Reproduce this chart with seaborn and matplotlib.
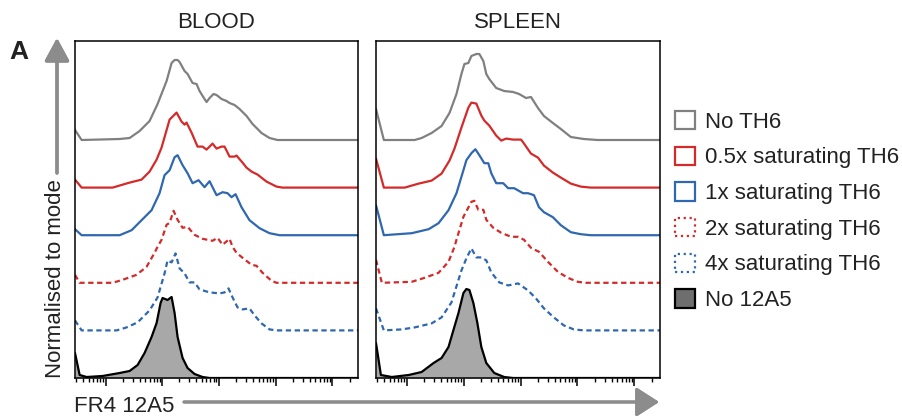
import matplotlib

matplotlib.use("Agg")
import matplotlib.pyplot as plt
import numpy as np
import pandas as pd
import seaborn as sns
from matplotlib.patches import Patch
from matplotlib.ticker import LogLocator, NullFormatter

# x values are log10 FR4 (12A5) intensity, y values relative events per bin
SAMPLES = ["No TH6", "0.5x saturating TH6", "1x saturating TH6",
           "2x saturating TH6", "4x saturating TH6", "No 12A5"]

blood_no_th6_x = [0.46, 0.577, 1.247, 1.423, 1.599, 1.775, 1.916, 2.075, 2.163, 2.216, 2.269, 2.304,
                  2.392, 2.445, 2.533, 2.604, 2.656, 2.744, 2.780, 2.833, 2.903, 2.956, 3.044, 3.132,
                  3.185, 3.273, 3.361, 3.485, 3.591, 3.749, 3.890, 4.031, 5.45]
blood_no_th6_y = [10, 0, 1, 2, 9, 19, 36, 59, 77, 80, 80, 78, 69, 66, 57, 56, 49, 41, 38, 42, 46, 45,
                  41, 39, 37, 35, 31, 24, 16, 7, 2, 0, 0]

blood_half_x = [0.46, 0.577, 1.123, 1.423, 1.634, 1.775, 1.899, 1.986, 2.128, 2.251, 2.339, 2.392,
                2.427, 2.515, 2.621, 2.709, 2.780, 2.885, 2.956, 3.044, 3.097, 3.185, 3.273, 3.308,
                3.414, 3.484, 3.573, 3.679, 3.837, 4.013, 4.119, 5.45]
blood_half_y = [8, 0, 0, 5, 8, 16, 28, 40, 68, 75, 66, 63, 65, 55, 41, 41, 38, 44, 39, 41, 41, 31,
                31, 32, 25, 20, 16, 13, 6, 1, 0, 0]

blood_1x_x = [0.46, 0.577, 1.247, 1.458, 1.634, 1.810, 1.951, 2.039, 2.128, 2.216, 2.269, 2.357,
              2.445, 2.533, 2.639, 2.744, 2.833, 2.956, 3.062, 3.150, 3.220, 3.291, 3.396, 3.537,
              3.714, 3.890, 4.066, 5.45]
blood_1x_y = [6, 0, 0, 5, 15, 25, 42, 60, 65, 78, 80, 70, 62, 52, 55, 48, 54, 40, 43, 42, 38, 41,
              28, 15, 7, 2, 0, 0]

blood_2x_x = [0.46, 0.542, 1.123, 1.300, 1.546, 1.722, 1.863, 1.916, 1.986, 2.075, 2.128, 2.198,
              2.269, 2.357, 2.445, 2.568, 2.709, 2.885, 2.974, 3.062, 3.185, 3.238, 3.308, 3.414,
              3.573, 3.661, 3.767, 3.925, 4.013, 5.45]
blood_2x_y = [8, 0, 0, 3, 8, 16, 30, 36, 43, 58, 60, 72, 63, 55, 56, 48, 44, 42, 45, 38, 44, 36,
              30, 25, 18, 17, 10, 2, 0, 0]

blood_4x_x = [0.46, 0.577, 1.194, 1.370, 1.564, 1.775, 1.916, 2.039, 2.092, 2.163, 2.233, 2.304,
              2.392, 2.480, 2.568, 2.656, 2.833, 3.009, 3.097, 3.167, 3.238, 3.326, 3.414, 3.537,
              3.626, 3.749, 3.890, 4.013, 5.45]
blood_4x_y = [10, 0, 0, 3, 8, 20, 33, 57, 70, 68, 77, 62, 57, 48, 48, 41, 38, 37, 38, 42, 33, 23,
              21, 22, 15, 7, 1, 0, 0]

blood_no_12a5_x = [0.46, 0.542, 0.665, 0.947, 1.247, 1.423, 1.564, 1.687, 1.810, 1.899, 1.969,
                   2.004, 2.092, 2.163, 2.216, 2.269, 2.357, 2.445, 2.568, 2.709, 2.833, 5.45]
blood_no_12a5_y = [25, 3, 1, 2, 5, 7, 13, 25, 41, 55, 75, 80, 78, 81, 65, 41, 20, 10, 4, 1, 0, 0]

spleen_no_th6_x = [0.46, 0.598, 1.140, 1.262, 1.437, 1.612, 1.751, 1.874, 1.961, 2.014, 2.083,
                   2.136, 2.223, 2.276, 2.346, 2.398, 2.450, 2.572, 2.712, 2.869, 2.974, 3.096,
                   3.183, 3.306, 3.411, 3.568, 3.708, 3.883, 4.110, 4.355, 5.45]
spleen_no_th6_y = [31, 0, 0, 2, 7, 14, 27, 46, 66, 76, 77, 84, 86, 86, 79, 66, 61, 52, 49, 48, 46,
                   42, 43, 32, 24, 17, 11, 3, 1, 0, 0]

spleen_half_x = [0.46, 0.598, 0.965, 1.210, 1.437, 1.612, 1.751, 1.839, 1.961, 2.083, 2.136, 2.223,
                 2.311, 2.363, 2.450, 2.572, 2.660, 2.747, 2.869, 3.009, 3.061, 3.183, 3.306, 3.411,
                 3.568, 3.708, 3.883, 4.058, 4.231, 5.45]
spleen_half_y = [29, 0, 0, 4, 7, 14, 27, 39, 60, 80, 85, 84, 72, 67, 62, 52, 47, 49, 48, 48, 44, 34,
                 30, 22, 15, 10, 4, 1, 0, 0]

spleen_1x_x = [0.46, 0.598, 1.087, 1.385, 1.559, 1.734, 1.874, 1.996, 2.048, 2.136, 2.206, 2.276,
               2.363, 2.433, 2.485, 2.572, 2.695, 2.782, 2.887, 3.044, 3.131, 3.236, 3.323, 3.411,
               3.568, 3.708, 3.883, 4.058, 4.231, 5.45]
spleen_1x_y = [30, 0, 2, 6, 12, 25, 42, 65, 75, 82, 86, 80, 72, 72, 62, 52, 52, 47, 47, 42, 42, 40,
               28, 23, 18, 10, 3, 1, 0, 0]

spleen_2x_x = [0.46, 0.563, 1.087, 1.315, 1.559, 1.734, 1.839, 1.874, 1.996, 2.136, 2.188, 2.258,
               2.346, 2.398, 2.520, 2.660, 2.834, 2.956, 3.061, 3.183, 3.323, 3.481, 3.655, 3.830,
               4.005, 4.144, 5.45]
spleen_2x_y = [23, 0, 1, 5, 10, 21, 36, 43, 66, 81, 82, 73, 73, 63, 55, 50, 46, 46, 43, 35, 31, 21,
               11, 5, 1, 0, 0]

spleen_4x_x = [0.46, 0.598, 0.912, 1.140, 1.437, 1.612, 1.786, 1.961, 2.048, 2.136, 2.223, 2.311,
               2.398, 2.485, 2.625, 2.782, 2.956, 3.131, 3.271, 3.411, 3.585, 3.760, 3.935, 4.110,
               5.45]
spleen_4x_y = [22, 0, 1, 3, 7, 13, 28, 60, 72, 82, 73, 73, 70, 58, 48, 45, 47, 40, 32, 22, 13, 5,
               1, 0, 0]

spleen_no_12a5_x = [0.46, 0.546, 0.738, 1.035, 1.262, 1.472, 1.612, 1.734, 1.821, 1.909, 1.996,
                    2.048, 2.101, 2.171, 2.241, 2.311, 2.398, 2.538, 2.712, 2.869, 5.45]
spleen_no_12a5_y = [35, 3, 1, 3, 6, 15, 20, 31, 48, 65, 85, 89, 88, 75, 55, 31, 15, 5, 1, 0, 0]

PANELS = {
    "BLOOD": [(blood_no_th6_x, blood_no_th6_y), (blood_half_x, blood_half_y),
              (blood_1x_x, blood_1x_y), (blood_2x_x, blood_2x_y),
              (blood_4x_x, blood_4x_y), (blood_no_12a5_x, blood_no_12a5_y)],
    "SPLEEN": [(spleen_no_th6_x, spleen_no_th6_y), (spleen_half_x, spleen_half_y),
               (spleen_1x_x, spleen_1x_y), (spleen_2x_x, spleen_2x_y),
               (spleen_4x_x, spleen_4x_y), (spleen_no_12a5_x, spleen_no_12a5_y)],
}

GREY = "#808080"
RED = "#d42a2a"
BLUE = "#2f68b0"
palette = {SAMPLES[0]: GREY, SAMPLES[1]: RED, SAMPLES[2]: BLUE,
           SAMPLES[3]: RED, SAMPLES[4]: BLUE, SAMPLES[5]: "black"}
dashes = {SAMPLES[0]: "", SAMPLES[1]: "", SAMPLES[2]: "",
          SAMPLES[3]: (2.4, 1.6), SAMPLES[4]: (2.4, 1.6), SAMPLES[5]: ""}
TRACK_GAP = 47.6  # vertical offset between stacked histograms
Y_TOP = 337


def build_frame(tracks):
    rows = []
    n = len(SAMPLES)
    for i, (name, (xs, ys)) in enumerate(zip(SAMPLES, tracks)):
        base = (n - 1 - i) * TRACK_GAP
        for x, y in zip(xs, ys):
            rows.append({"sample": name, "intensity": 10 ** x, "count": base + y})
    return pd.DataFrame(rows)


def main():
    sns.set_style("white")
    plt.rcParams["font.family"] = ["Liberation Sans", "DejaVu Sans"]
    text_color = "#222222"

    fig = plt.figure(figsize=(9.02, 4.19), dpi=100)
    boxes = {"BLOOD": [75 / 902, 41 / 419, 283 / 902, 337 / 419],
             "SPLEEN": [376 / 902, 41 / 419, 284 / 902, 337 / 419]}

    for title, tracks in PANELS.items():
        l, t, w, h = boxes[title]
        ax = fig.add_axes([l, 1 - t - h, w, h])
        df = build_frame(tracks)

        xs, ys = tracks[-1]
        ax.fill_between(10 ** np.array(xs), 0, ys, color="#a8a8a8", lw=0, zorder=1)

        sns.lineplot(data=df, x="intensity", y="count", hue="sample", style="sample",
                     palette=palette, dashes=dashes, hue_order=SAMPLES, style_order=SAMPLES,
                     estimator=None, sort=False, linewidth=1.6, legend=False, ax=ax, zorder=2)

        ax.set_xscale("log")
        ax.set_xlim(10 ** 0.46, 10 ** 5.45)
        ax.set_ylim(0, Y_TOP)
        ax.xaxis.set_major_locator(LogLocator(base=10, numticks=10))
        ax.xaxis.set_minor_locator(LogLocator(base=10, subs=np.arange(2, 10), numticks=20))
        ax.xaxis.set_major_formatter(NullFormatter())
        ax.xaxis.set_minor_formatter(NullFormatter())
        ax.tick_params(axis="x", which="major", length=6, width=1.1, direction="out",
                       color="black", bottom=True)
        ax.tick_params(axis="x", which="minor", length=3, width=1.0, direction="out",
                       color="black", bottom=True)
        ax.set_yticks([])
        ax.set_xlabel("")
        ax.set_ylabel("")
        for sp in ax.spines.values():
            sp.set_color("black")
            sp.set_linewidth(1.1)
        ax.set_title(title, fontsize=16, color=text_color, pad=9.5)

    fig.text(9 / 902, 1 - 59 / 419, "A", fontsize=19, fontweight="bold",
             color=text_color, va="baseline")
    fig.text(56 / 902, 1 - 279 / 419, "Normalised to mode", rotation=90, fontsize=16,
             color=text_color, ha="center", va="center")
    fig.text(74 / 902, 1 - 412 / 419, "FR4 12A5", fontsize=16, color=text_color,
             va="baseline")

    arrow_grey = "#8c8c8c"
    fig.add_artist(plt.annotate(
        "", xy=(57 / 902, 1 - 38 / 419), xytext=(57 / 902, 1 - 173 / 419),
        xycoords="figure fraction", textcoords="figure fraction",
        arrowprops=dict(arrowstyle="-|>,head_length=0.7,head_width=0.38", lw=2.4,
                        color=arrow_grey, mutation_scale=20, shrinkA=0, shrinkB=0)))
    fig.add_artist(plt.annotate(
        "", xy=(659 / 902, 1 - 402 / 419), xytext=(184 / 902, 1 - 402 / 419),
        xycoords="figure fraction", textcoords="figure fraction",
        arrowprops=dict(arrowstyle="-|>,head_length=0.7,head_width=0.45", lw=2.2,
                        color=arrow_grey, mutation_scale=20, shrinkA=0, shrinkB=0)))

    handles = [
        Patch(facecolor="white", edgecolor=GREY, linewidth=1.6),
        Patch(facecolor="white", edgecolor=RED, linewidth=1.6),
        Patch(facecolor="white", edgecolor=BLUE, linewidth=1.6),
        Patch(facecolor="white", edgecolor=RED, linewidth=1.6, linestyle=":"),
        Patch(facecolor="white", edgecolor=BLUE, linewidth=1.6, linestyle=":"),
        Patch(facecolor="#6e6e6e", edgecolor="black", linewidth=1.6),
    ]
    leg = fig.legend(handles, SAMPLES, loc="center left", bbox_to_anchor=(675 / 902, 1 - 211 / 419),
                     frameon=False, fontsize=16, handlelength=0.9, handleheight=0.9,
                     handletextpad=0.45, labelspacing=0.62, borderpad=0, borderaxespad=0)
    for txt in leg.get_texts():
        txt.set_color(text_color)

    fig.savefig("out.png", dpi=100)
    plt.close(fig)


if __name__ == "__main__":
    main()
